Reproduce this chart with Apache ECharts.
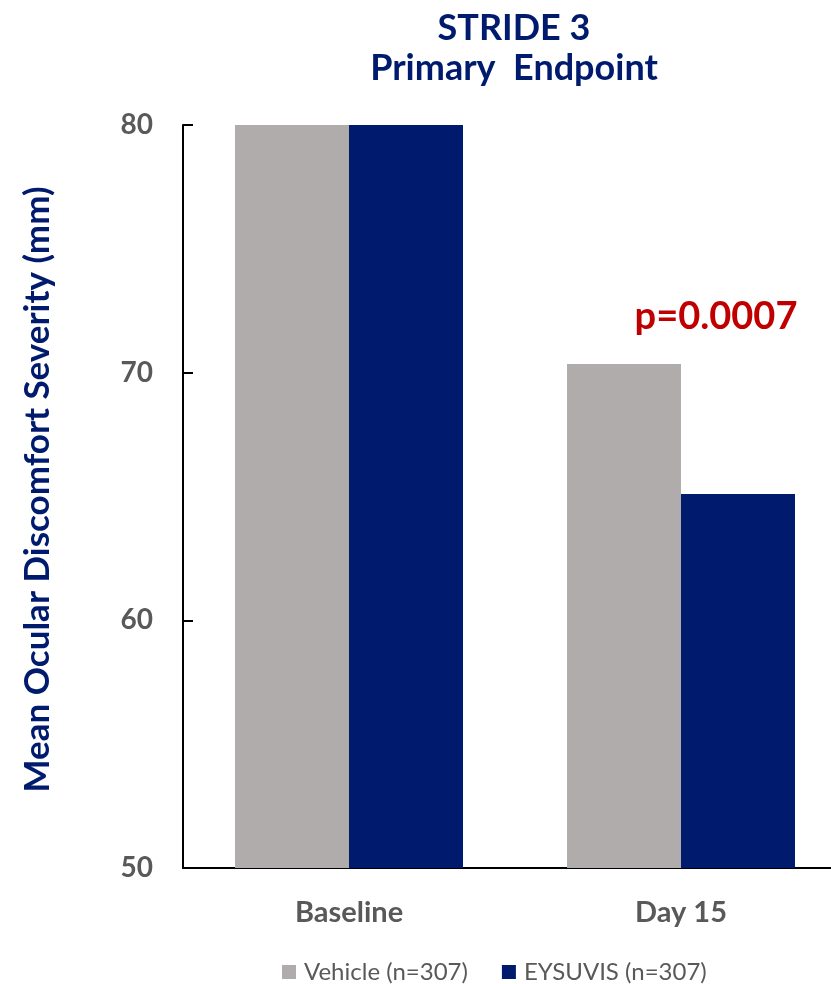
<!DOCTYPE html>
<html>
<head>
<meta charset="utf-8">
<style>
  html, body { margin: 0; padding: 0; background: #fff; overflow: hidden; }
  /* the plot runs slightly past the right edge of the page */
  #chart { width: 847px; height: 984px; }
</style>
<script src="https://cdn.jsdelivr.net/npm/echarts@6/dist/echarts.min.js"></script>
</head>
<body>
<div id="chart"></div>
<script>
// Visit categories and group means (mm)
const categories = ['Baseline', 'Day 15'];
const vehicleValues = [80, 70.35];
const eysuvisValues = [80, 65.1];
const seriesNames = ['Vehicle (n=307)', 'EYSUVIS (n=307)'];
const yTicks = { min: 50, max: 80, interval: 10 };
const pValueText = 'p=0.0007';

const FONT = 'Lato, "Open Sans", sans-serif';
const NAVY = '#001A6E';
const GREY = '#AFACAB';

const chart = echarts.init(document.getElementById('chart'));
chart.setOption({
  backgroundColor: '#ffffff',
  animation: false,
  title: {
    text: 'STRIDE 3\nPrimary  Endpoint',
    left: 509,
    top: 3,
    textAlign: 'center',
    textStyle: {
      fontFamily: FONT,
      fontWeight: 'bold',
      fontSize: 36,
      lineHeight: 40,
      color: NAVY
    }
  },
  legend: {
    left: 277,
    top: 955,
    itemWidth: 14,
    itemHeight: 14,
    itemGap: 34,
    icon: 'rect',
    textStyle: {
      fontFamily: FONT,
      fontSize: 24,
      color: '#595959',
      padding: [0, 0, 0, 3]
    },
    data: seriesNames
  },
  grid: {
    left: 183,
    right: 0,
    top: 125,
    height: 743,
    containLabel: false
  },
  xAxis: {
    type: 'category',
    data: categories,
    axisLine: { lineStyle: { color: '#000', width: 2 } },
    axisTick: { show: false },
    axisLabel: {
      margin: 30,
      fontFamily: FONT,
      fontWeight: 'bold',
      fontSize: 29,
      color: '#595959'
    }
  },
  yAxis: {
    type: 'value',
    min: yTicks.min,
    max: yTicks.max,
    interval: yTicks.interval,
    name: 'Mean Ocular Discomfort Severity (mm)',
    nameLocation: 'middle',
    nameRotate: 90,
    nameGap: 128,
    nameTextStyle: {
      fontFamily: FONT,
      fontWeight: 'bold',
      fontSize: 35,
      color: NAVY,
      padding: [0, 0, 0, 14]
    },
    splitLine: { show: false },
    axisLine: { show: true, lineStyle: { color: '#000', width: 2 } },
    axisTick: { show: true, inside: true, length: 10, lineStyle: { color: '#000', width: 2 } },
    axisLabel: {
      margin: 30,
      fontFamily: FONT,
      fontWeight: 'bold',
      fontSize: 28,
      color: '#595959'
    }
  },
  series: [
    {
      name: seriesNames[0],
      type: 'bar',
      data: vehicleValues,
      barWidth: 114,
      barGap: '0%',
      itemStyle: { color: GREY }
    },
    {
      name: seriesNames[1],
      type: 'bar',
      data: eysuvisValues,
      barWidth: 114,
      barGap: '0%',
      itemStyle: { color: NAVY }
    }
  ],
  graphic: [
    {
      type: 'text',
      x: 716,
      y: 317,
      style: {
        text: pValueText,
        fontFamily: FONT,
        fontWeight: 'bold',
        fontSize: 38,
        fill: '#C00000',
        align: 'center',
        verticalAlign: 'middle'
      }
    }
  ]
});
</script>
</body>
</html>
